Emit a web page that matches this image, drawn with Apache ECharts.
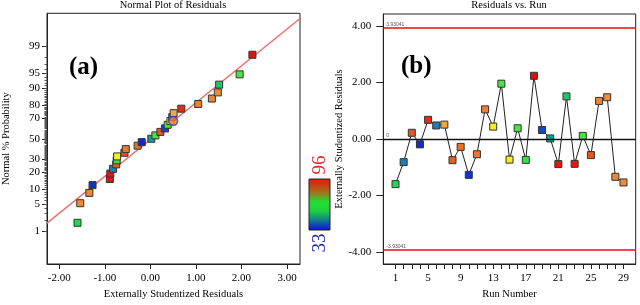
<!DOCTYPE html>
<html>
<head>
<meta charset="utf-8">
<script src="https://cdn.jsdelivr.net/npm/echarts@6/dist/echarts.min.js"></script>
<style>html,body{margin:0;padding:0;background:#fff}#c{width:640px;height:305px}</style>
</head>
<body>
<div id="c"></div>
<script>
// ---- data ----
const runs = [1,2,3,4,5,6,7,8,9,10,11,12,13,14,15,16,17,18,19,20,21,22,23,24,25,26,27,28,29];
const residuals = [-1.60,-0.82,0.22,-0.19,0.68,0.48,0.51,-0.75,-0.28,-1.27,-0.54,1.05,0.44,1.96,-0.73,0.38,-0.74,2.24,0.32,0.02,-0.89,1.51,-0.88,0.11,-0.57,1.35,1.48,-1.34,-1.54];
const response = [53,43,86,34,92,43,74,85,82,35,81,80,65,56,65,56,55,96,37,46,95,51,95,56,86,79,78,79,78];
const probRankRuns = [1,29,28,10,21,23,2,8,17,15,25,11,9,4,20,24,3,19,16,13,6,7,5,12,26,27,22,14,18];
const probPercent = [1.7,5.2,8.6,12.1,15.5,19.0,22.4,25.9,29.3,32.8,36.2,39.7,43.1,46.6,50.0,53.4,56.9,60.3,63.8,67.2,70.7,74.1,77.6,81.0,84.5,87.9,91.4,94.8,98.3];
const probTickLabels = [1,5,10,20,30,50,70,80,90,95,99];
const residTickLabels = [-2,-1,0,1,2,3];
const runTickLabels = [1,5,9,13,17,21,25,29];
const runResidTickLabels = [-4,-2,0,2,4];
const limitValue = 3.93041;
const refLineResid = [-2.27, 3.285];
const refLinePct = [1.67, 99.88];
const highlightPoint = [0.50, 67.2];
const colorRange = [33, 96];

// ---- probability scale transform (inverse normal CDF) ----
function normInv(p){
  const a=[-3.969683028665376e+01,2.209460984245205e+02,-2.759285104469687e+02,1.383577518672690e+02,-3.066479806614716e+01,2.506628277459239e+00];
  const b=[-5.447609879822406e+01,1.615858368580409e+02,-1.556989798598866e+02,6.680131188771972e+01,-1.328068155288572e+01];
  const c=[-7.784894002430293e-03,-3.223964580411365e-01,-2.400758276161838e+00,-2.549732539343734e+00,4.374664141464968e+00,2.938163982698783e+00];
  const d=[7.784695709041462e-03,3.224671290700398e-01,2.445134137142996e+00,3.754408661907416e+00];
  const pl=0.02425, ph=1-pl; let q,r;
  if(p<pl){q=Math.sqrt(-2*Math.log(p));return (((((c[0]*q+c[1])*q+c[2])*q+c[3])*q+c[4])*q+c[5])/((((d[0]*q+d[1])*q+d[2])*q+d[3])*q+1);}
  if(p>ph){q=Math.sqrt(-2*Math.log(1-p));return -(((((c[0]*q+c[1])*q+c[2])*q+c[3])*q+c[4])*q+c[5])/((((d[0]*q+d[1])*q+d[2])*q+d[3])*q+1);}
  q=p-0.5;r=q*q;return (((((a[0]*r+a[1])*r+a[2])*r+a[3])*r+a[4])*r+a[5])*q/(((((b[0]*r+b[1])*r+b[2])*r+b[3])*r+b[4])*r+1);
}
const pz = v => normInv(v/100);
const majorZ = probTickLabels.map(pz);
const minorPct = []; for (let i=1;i<=99;i++) minorPct.push(i);
const minorZ = minorPct.map(pz);
const zLabel = {}; probTickLabels.forEach(p => { zLabel[pz(p).toFixed(5)] = String(p); });

const leftPoints = probRankRuns.map((r,i)=>[residuals[r-1], pz(probPercent[i]), response[r-1]]);
const rightPoints = runs.map((r,i)=>[r, residuals[i], response[i]]);
const refLine = refLineResid.map((x,i)=>[x, pz(refLinePct[i])]);

const FONT = 'Liberation Serif';
const axisTxt = {color:'#000', fontFamily:FONT, fontSize:11};
const nameTxt = {color:'#000', fontFamily:FONT, fontSize:10.5};
const axLine = {show:true, onZero:false, lineStyle:{color:'#222', width:1}};

const chart = echarts.init(document.getElementById('c'), null, {renderer:'canvas'});
chart.setOption({
  animation:false,
  backgroundColor:'#fff',
  title:[
    {text:'Normal Plot of Residuals', left:173, top:0, textAlign:'center', padding:0, textStyle:{fontFamily:FONT, fontWeight:'normal', fontSize:10.5, color:'#000'}},
    {text:'Residuals vs. Run', left:509, top:0, textAlign:'center', padding:0, textStyle:{fontFamily:FONT, fontWeight:'normal', fontSize:10.5, color:'#000'}}
  ],
  grid:[
    {left:46.7, top:13.3, right:340, bottom:40, show:true, borderColor:'#222', borderWidth:1},
    {left:383.3, top:14, right:4.3, bottom:40, show:true, borderColor:'#222', borderWidth:1}
  ],
  xAxis:[
    {type:'value', gridIndex:0, min:-2.27, max:3.285, position:'bottom', name:'Externally Studentized Residuals', nameLocation:'middle', nameGap:25, nameTextStyle:nameTxt,
     axisLine:axLine, splitLine:{show:false},
     axisTick:{show:true, length:5, customValues:residTickLabels, lineStyle:{color:'#222'}},
     axisLabel:Object.assign({customValues:residTickLabels, margin:9, formatter:v=>v.toFixed(2)}, axisTxt)},
    {type:'value', gridIndex:1, min:-0.5, max:30.5, position:'bottom', name:'Run Number', nameLocation:'middle', nameGap:25, nameTextStyle:nameTxt,
     axisLine:axLine, splitLine:{show:false},
     axisTick:{show:true, length:5, customValues:runs, lineStyle:{color:'#222'}},
     axisLabel:Object.assign({customValues:runTickLabels, margin:9}, axisTxt)}
  ],
  yAxis:[
    {type:'value', gridIndex:0, min:-3.16, max:3.166, position:'left', offset:0, name:'Normal % Probability', nameLocation:'middle', nameGap:35, nameTextStyle:nameTxt,
     axisLine:axLine, splitLine:{show:false},
     axisTick:{show:true, length:5, customValues:majorZ, lineStyle:{color:'#222'}},
     axisLabel:Object.assign({customValues:majorZ, margin:7, formatter:v=>zLabel[v.toFixed(5)] || ''}, axisTxt)},
    {type:'value', gridIndex:0, min:-3.16, max:3.166, position:'left', offset:0,
     axisLine:{show:false, onZero:false}, splitLine:{show:false}, axisLabel:{show:false},
     axisTick:{show:true, length:2.5, customValues:minorZ, lineStyle:{color:'#555'}}},
    {type:'value', gridIndex:1, min:-4.43, max:4.43, position:'left', offset:0, name:'Externally Studentized Residuals', nameLocation:'middle', nameGap:27, nameTextStyle:nameTxt,
     axisLine:axLine, splitLine:{show:false},
     axisTick:{show:true, length:7, customValues:runResidTickLabels, lineStyle:{color:'#222'}},
     axisLabel:Object.assign({customValues:runResidTickLabels, margin:12, formatter:v=>v.toFixed(2)}, axisTxt)}
  ],
  visualMap:{type:'continuous', show:false, min:colorRange[0], max:colorRange[1], dimension:2, seriesIndex:[1,4],
    inRange:{color:['#1020d8','#1a84b0','#22e04a','#f2f222','#f2a040','#e85a20','#e01010']}},
  series:[
    {type:'line', xAxisIndex:0, yAxisIndex:0, data:refLine, symbol:'none', lineStyle:{color:'#f07070', width:1.5}, z:2, silent:true},
    {type:'scatter', xAxisIndex:0, yAxisIndex:0, data:leftPoints, symbol:'rect', symbolSize:7, itemStyle:{borderColor:'#333', borderWidth:1, opacity:1}, z:4},
    {type:'scatter', xAxisIndex:0, yAxisIndex:0, data:[[highlightPoint[0], pz(highlightPoint[1])]], symbol:'circle', symbolSize:9, itemStyle:{color:'#f08030', borderColor:'#3040c0', borderWidth:1.5}, z:5},
    {type:'line', xAxisIndex:1, yAxisIndex:2, data:rightPoints.map(p=>[p[0],p[1]]), symbol:'none', lineStyle:{color:'#222', width:1}, z:3,
     markLine:{silent:true, symbol:'none', animation:false,
       data:[
         {yAxis:limitValue, lineStyle:{color:'#e01010', width:1.5, type:'solid'}, label:{show:true, position:'insideStartTop', formatter:String(limitValue), fontSize:5, color:'#555', distance:[3,1]}},
         {yAxis:-limitValue, lineStyle:{color:'#e01010', width:1.5, type:'solid'}, label:{show:true, position:'insideStartTop', formatter:String(-limitValue), fontSize:5, color:'#555', distance:[3,1]}},
         {yAxis:0, lineStyle:{color:'#111', width:1.3, type:'solid'}, label:{show:true, position:'insideStartTop', formatter:'0', fontSize:5, color:'#555', distance:[3,1]}}
       ]}},
    {type:'scatter', xAxisIndex:1, yAxisIndex:2, data:rightPoints, symbol:'rect', symbolSize:7, itemStyle:{borderColor:'#333', borderWidth:1, opacity:1}, z:4}
  ],
  graphic:[
    {type:'text', left:69, top:55, style:{text:'(a)', font:'bold 25px "Liberation Serif"', fill:'#000'}},
    {type:'text', left:401, top:54, style:{text:'(b)', font:'bold 25px "Liberation Serif"', fill:'#000'}},
    {type:'rect', shape:{x:309, y:179, width:21, height:51},
     style:{stroke:'#222', lineWidth:1, fill:new echarts.graphic.LinearGradient(0,0,0,1,[
       {offset:0,color:'#e01a10'},{offset:0.12,color:'#d03a10'},{offset:0.28,color:'#9a7a20'},{offset:0.45,color:'#20e030'},
       {offset:0.62,color:'#20d040'},{offset:0.77,color:'#10907a'},{offset:0.9,color:'#1040c0'},{offset:1,color:'#1010e0'}])}},
    {type:'text', x:320, y:165, rotation:Math.PI/2, style:{text:'96', font:'19px "Liberation Serif"', fill:'#e82828', align:'center', verticalAlign:'middle'}},
    {type:'text', x:320, y:243, rotation:Math.PI/2, style:{text:'33', font:'19px "Liberation Serif"', fill:'#2828b0', align:'center', verticalAlign:'middle'}}
  ]
});
</script>
</body>
</html>
